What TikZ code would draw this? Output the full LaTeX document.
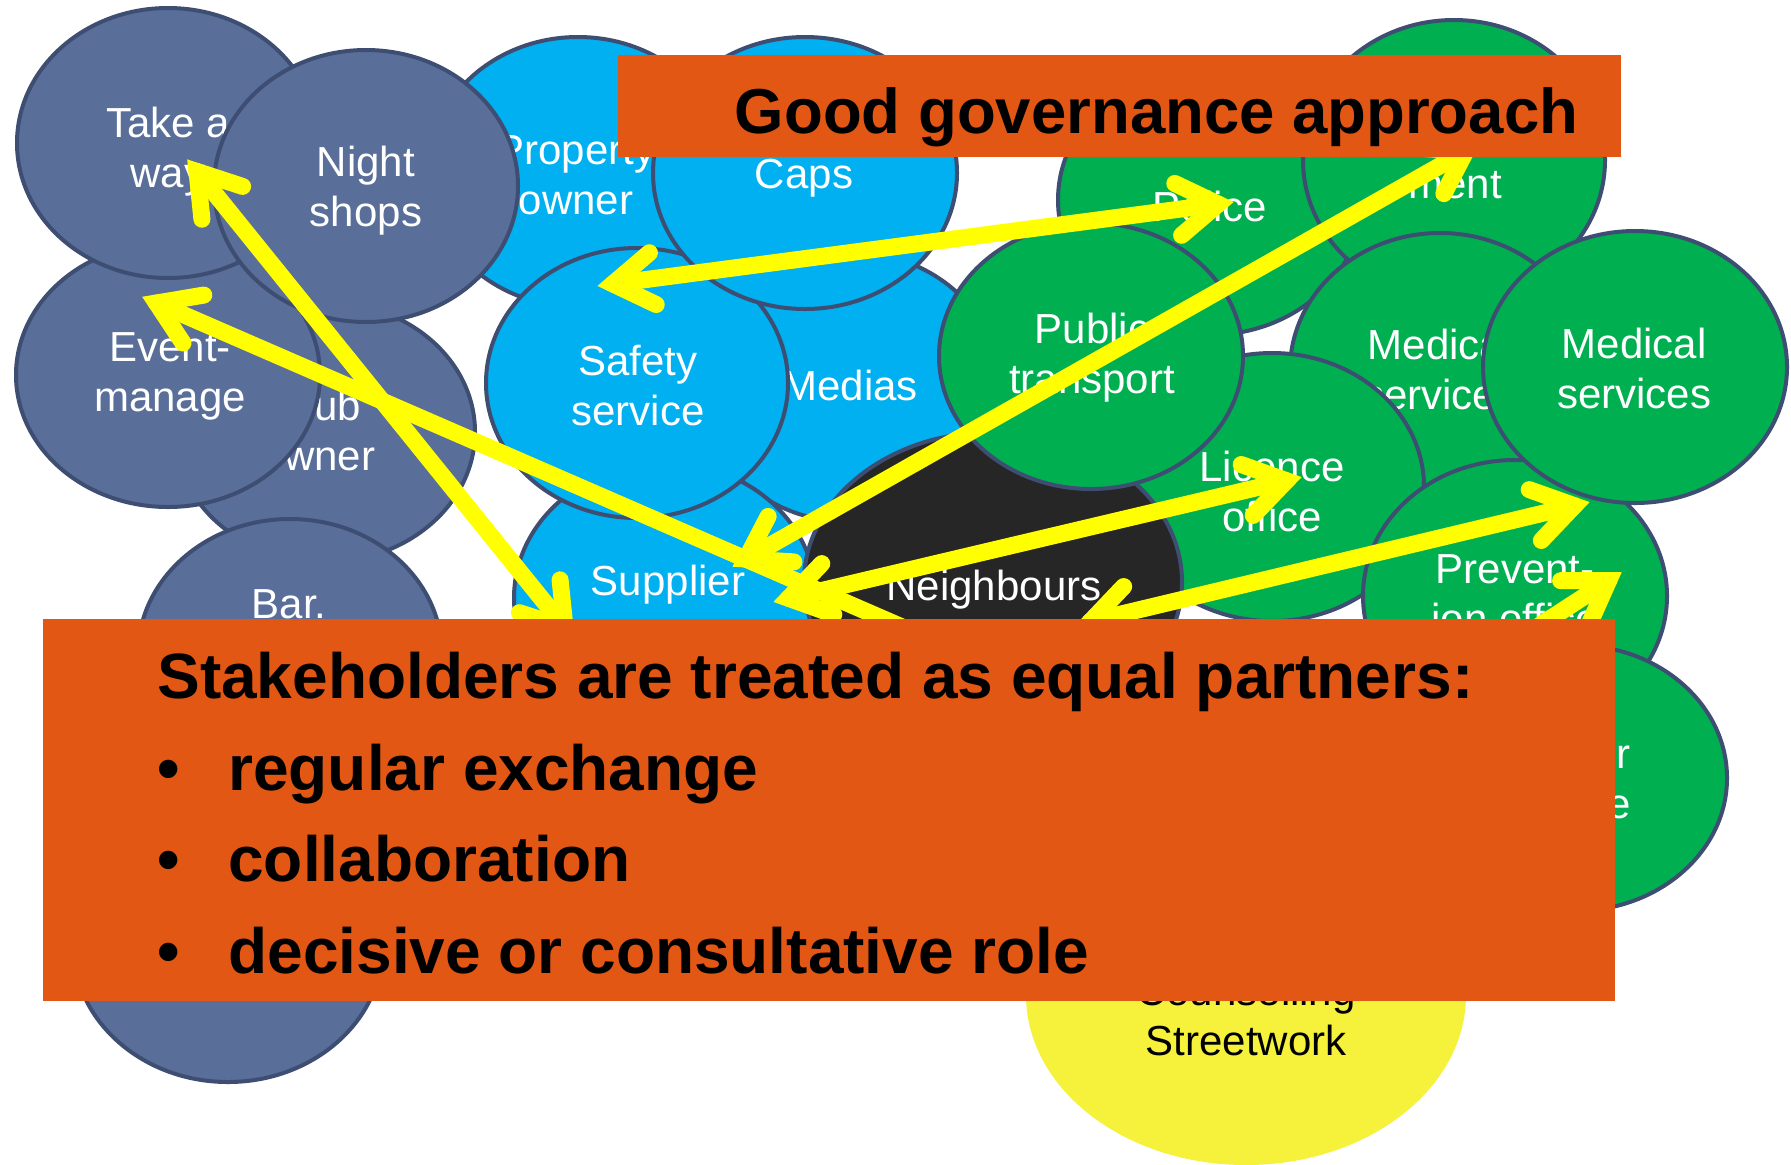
\documentclass[tikz,border=0pt]{standalone}
\usepackage{fontspec}
\setmainfont{Liberation Sans}
\usetikzlibrary{shapes.geometric,calc}
\definecolor{slate}{RGB}{89,110,153}
\definecolor{rim}{RGB}{62,78,115}
\definecolor{sky}{RGB}{0,176,240}
\definecolor{leaf}{RGB}{0,176,80}
\definecolor{coal}{RGB}{38,38,38}
\definecolor{lemon}{RGB}{255,255,0}
\definecolor{pale}{RGB}{246,241,58}
\definecolor{rust}{RGB}{227,87,20}
\tikzset{
  bub/.style 2 args={ellipse, draw=rim, line width=2pt, inner sep=0pt, outer sep=0pt,
    minimum width=#1pt, minimum height=#2pt},
  slatebub/.style 2 args={bub={#1}{#2}, fill=slate},
  skybub/.style 2 args={bub={#1}{#2}, fill=sky},
  leafbub/.style 2 args={bub={#1}{#2}, fill=leaf},
  coalbub/.style 2 args={bub={#1}{#2}, fill=coal},
  lbl/.style={text=white, align=center, inner sep=0pt, font=\fontsize{21pt}{25pt}\selectfont},
  yshaft/.style={draw=lemon, line width=8.5pt, line cap=round},
  yhead/.style={draw=lemon, line width=8.5pt, line cap=round, line join=miter},
  slab/.style={fill=rust, inner sep=0pt, outer sep=0pt, anchor=north west},
  bigbold/.style={inner sep=0pt, anchor=base west, text=black,
    font=\bfseries\fontsize{32pt}{38pt}\selectfont},
}
\newcommand\yellowlink[2]{%
  \draw[yshaft] (#1) -- (#2);
  \draw[yhead] ($(#1)!24pt!33:(#2)$) -- (#1) -- ($(#1)!24pt!-33:(#2)$);
  \draw[yhead] ($(#2)!24pt!33:(#1)$) -- (#2) -- ($(#2)!24pt!-33:(#1)$);
}
\begin{document}
\begin{tikzpicture}[x=0.5pt,y=-0.5pt]
\fill[white] (0,0) rectangle (1791,1164);
\useasboundingbox (0,0) rectangle (1791,1164);

% left (slate) group
\node[slatebub={150}{130}] (club) at (325,432) {};
\node[lbl] (club-t) at (318,430) {Club\\owner};
\node[slatebub={152}{135}] (bar) at (290,654) {};
\node[lbl] (bar-t) at (289,604) {Bar.};
\node[slatebub={155}{137}] (lowleft) at (228,945) {};
\node[slatebub={152}{132}] (event) at (168,375) {};
\node[lbl] (event-t) at (170,376) {Event-\\manage};
\node[slatebub={151}{135}] (takeaway) at (168,143) {};
\node[lbl] (takeaway-t) at (168,152) {Take a\\way};
\node[skybub={150}{135}] (property) at (578,172) {};
\node[lbl] (property-t) at (576,175) {Property\\owner};
\node[slatebub={152}{136}] (night) at (366,186) {};
\node[lbl] (night-t) at (366,191) {Night\\shops};

% middle (sky) group
\node[skybub={150}{135}] (medias) at (850,387) {};
\node[lbl] (medias-t) at (850,385) {Medias};
\node[skybub={151}{135}] (supplier) at (665,598) {};
\node[lbl] (supplier-t) at (668,585) {Supplier};
\node[skybub={151}{135}] (safety) at (637,383) {};
\node[lbl] (safety-t) at (638,385) {Safety\\service};
\node[skybub={152}{136}] (caps) at (805,173) {};
\node[lbl] (caps-t) at (804,178) {Caps};

% right (leaf) group
\node[leafbub={152}{135}] (police) at (1210,200) {};
\node[lbl] (police-t) at (1210,206) {Police};
\node[leafbub={151}{140}] (govt) at (1454,160) {};
\node[lbl] (govt-t) at (1455,185) {ment};
\node[leafbub={150}{137}] (medic) at (1440,370) {};
\node[lbl] (medic-t) at (1440,369) {Medical\\services};
\node[leafbub={152}{134}] (licence) at (1272,487) {};
\node[lbl] (licence-t) at (1272,491) {Licence\\office};
\node[coalbub={189}{150}] (neigh) at (993,582) {};
\node[lbl] (neigh-t) at (994,590) {Neighbours};
\node[leafbub={152}{133}] (transport) at (1091,356) {};
\node[lbl] (transport-t) at (1092,358) {Public\\transport};
\node[leafbub={152}{136}] (prevent) at (1515,596) {};
\node[lbl] (prevent-t) at (1515,594) {Prevent-\\ion office};
\node[leafbub={152}{136}] (medical) at (1635,367) {};
\node[lbl] (medical-t) at (1634,368) {Medical\\services};
\node[leafbub={152}{133}] (order) at (1575,778) {};
\node[lbl, align=right, anchor=east] (order-t) at (1631,782) {r\\e};
\node[ellipse, fill=pale, inner sep=0pt, minimum width=220pt, minimum height=170pt] (counsel) at (1246,995) {};
\node[lbl, text=black] (counsel-t) at (1246,1015) {Counselling\\Streetwork};

% arrow end points
\coordinate (p-takeaway) at (197,171.5);
\coordinate (p-bar) at (565,627.6);
\coordinate (p-event) at (156.5,303);
\coordinate (p-hidden1) at (1100,713);
\coordinate (p-supplier) at (746,559);
\coordinate (p-govt) at (1466,151);
\coordinate (p-neigh-w) at (788.6,598.3);
\coordinate (p-licence) at (1286.4,480.7);
\coordinate (p-safety) at (612.9,283.9);
\coordinate (p-police) at (1218.1,204.1);
\coordinate (p-neigh-e) at (1090.6,621.3);
\coordinate (p-medical) at (1574.4,505.7);
\coordinate (p-hidden2) at (1272,799);
\coordinate (p-prevent) at (1608.6,580.7);

\yellowlink{p-takeaway}{p-bar}
\yellowlink{p-event}{p-hidden1}
\yellowlink{p-supplier}{p-govt}
\yellowlink{p-neigh-w}{p-licence}
\yellowlink{p-safety}{p-police}
\yellowlink{p-neigh-e}{p-medical}
\yellowlink{p-hidden2}{p-prevent}

% orange panels
\node[slab, minimum width=501.5pt, minimum height=51pt] (titlebox) at (618,55) {};
\node[bigbold, font=\bfseries\fontsize{31.75pt}{38pt}\selectfont] (title) at (734.5,133) {Good governance approach};
\node[slab, minimum width=786pt, minimum height=191pt] (panel) at (43,619) {};
\node[bigbold] (stake) at (157,698) {Stakeholders are treated as equal partners:};
\node[bigbold] (item1) at (157,790) {\makebox[35.5pt][l]{\textbullet}regular exchange};
\node[bigbold] (item2) at (157,881) {\makebox[35.5pt][l]{\textbullet}collaboration};
\node[bigbold] (item3) at (157,973) {\makebox[35.5pt][l]{\textbullet}decisive or consultative role};
\end{tikzpicture}
\end{document}
